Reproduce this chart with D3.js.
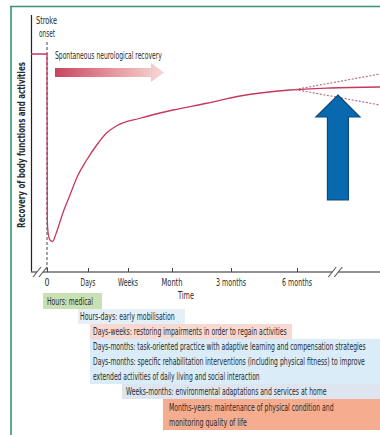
<!DOCTYPE html>
<html>
<head>
<meta charset="utf-8">
<script src="https://cdn.jsdelivr.net/npm/d3@7"></script>
<style>
  html, body { margin: 0; padding: 0; background: #ffffff; }
  svg { display: block; }
  text { font-family: "Liberation Sans Narrow", "DejaVu Sans Condensed", "Roboto", sans-serif; fill: #2b2b2b; }
</style>
</head>
<body>
<svg id="chart" width="380" height="435"></svg>
<script>
// ---------------- DATA ----------------
// Time axis (ordinal-like positions, non-linear time)
const timeTicks = [0, 1, 2, 3, 4, 5];
const timeLabels = ["0", "Days", "Weeks", "Month", "3 months", "6 months"];
const timeStart = -0.39;   // pre-stroke
const timeBreak = 5.58;    // axis break
const timeEnd = 6.26;

// Recovery curve (time position, recovery level 0-100)
const curveTime = [-0.39, 0, 0.007, 0.024, 0.073, 0.139, 0.183, 0.237, 0.398, 0.561, 0.724, 0.968,
                   1.218, 1.468, 1.718, 2.273, 3.017, 3.588, 4.136, 4.894, 5.5, 6.258];
const curveRecovery = [87.2, 87.2, 21.6, 16.0, 12.8, 12.2, 13.6, 16.1, 24.1, 30.8, 37.6, 44.8,
                       50.8, 55.7, 58.5, 61.5, 64.8, 67.5, 70.4, 72.8, 73.6, 74.0];

// Divergent long-term trajectories (dotted)
const branchTime = [4.97, 6.258];
const upperRecovery = [73.0, 79.2];
const lowerRecovery = [73.0, 66.8];

// Texts
const yAxisLabel = "Recovery of body functions and activities";
const xAxisLabel = "Time";
const onsetLabel = ["Stroke", "onset"];
const spontaneousLabel = "Spontaneous neurological recovery";

// Rehabilitation phases (text lines)
const phaseNames = ["medical", "mobilisation", "restoring", "rehab", "home", "maintenance"];
const phaseLines = [
  ["Hours: medical"],
  ["Hours-days: early mobilisation"],
  ["Days-weeks: restoring impairments in order to regain activities"],
  ["Days-months: task-oriented practice with adaptive learning and compensation strategies",
   "Days-months: specific rehabilitation interventions (including physical fitness) to improve",
   "extended activities of daily living and social interaction"],
  ["Weeks-months: environmental adaptations and services at home"],
  ["Months-years: maintenance of physical condition and",
   "monitoring quality of life"]
];

// ---------------- LAYOUT / STYLE ----------------
const tickPixels = [47, 88, 128, 172, 231, 297];
const tickLabelWidths = [5, 15, 20, 21, 30, 30];
const yTop = 22, yBottom = 272;
const lineColor = "#c8375c";
const phaseStyle = {
  medical:      { x0: 43,  x1: 102, y0: 293, y1: 309, fill: "#c9e0b5", tx: 47,  widths: [46] },
  mobilisation: { x0: 78,  x1: 185, y0: 309, y1: 324, fill: "#e4eff8", tx: 80,  widths: [95] },
  restoring:    { x0: 90,  x1: 292, y0: 324, y1: 339, fill: "#f8d9d2", tx: 93,  widths: [194] },
  rehab:        { x0: 90,  x1: 380, y0: 339, y1: 384, fill: "#d9ecf7", tx: 93,  widths: [273, 272, 167] },
  home:         { x0: 122, x1: 380, y0: 384, y1: 399, fill: "#dfe5ef", tx: 126, widths: [201] },
  maintenance:  { x0: 163, x1: 380, y0: 399, y1: 430, fill: "#f6ad8f", tx: 169, widths: [165, 78] }
};
const lineStep = 14.8;

// ---------------- DRAW ----------------
const svg = d3.select("#chart");

// place a text at (tx, ty) with anchor, horizontally scaled to a target width
function fitText(parent, str, tx, ty, width, size, anchor, extra) {
  const t = parent.append("text").attr("x", 0).attr("y", 0)
    .attr("font-size", size).attr("text-anchor", anchor || "start").text(str);
  if (extra) extra(t);
  const natural = t.node().getComputedTextLength();
  const sx = natural > 0 ? width / natural : 1;
  t.attr("transform", `translate(${tx},${ty}) scale(${sx},1)`);
  return t;
}

const x = d3.scaleLinear().domain(timeTicks).range(tickPixels);
const y = d3.scaleLinear().domain([0, 100]).range([yBottom, yTop]);

// frame (green)
svg.append("line").attr("x1", 10).attr("x2", 380).attr("y1", 6.5).attr("y2", 6.5)
  .attr("stroke", "#3a9474").attr("stroke-width", 1.6);
svg.append("line").attr("x1", 11).attr("x2", 11).attr("y1", 6).attr("y2", 435)
  .attr("stroke", "#3a9474").attr("stroke-width", 1.6);

// defs: gradient
const defs = svg.append("defs");
const grad = defs.append("linearGradient").attr("id", "spontGrad")
  .attr("x1", "0%").attr("x2", "100%").attr("y1", "0%").attr("y2", "0%");
grad.append("stop").attr("offset", "0%").attr("stop-color", "#c6465f");
grad.append("stop").attr("offset", "55%").attr("stop-color", "#e7999f");
grad.append("stop").attr("offset", "100%").attr("stop-color", "#f6d9d7");

// y axis line
svg.append("line").attr("x1", 31.5).attr("x2", 31.5).attr("y1", 15).attr("y2", yBottom)
  .attr("stroke", "#222").attr("stroke-width", 1.2);

// y axis label (rotated)
const yl = svg.append("g").attr("transform", `translate(24.5,${(62 + 228) / 2}) rotate(-90)`);
fitText(yl, yAxisLabel, 0, 0, 166, 10, "middle", t => t.attr("font-weight", "bold").attr("fill", "#333"));

// stroke onset dashed line
svg.append("line").attr("x1", x(0)).attr("x2", x(0)).attr("y1", 42).attr("y2", yBottom)
  .attr("stroke", "#333").attr("stroke-width", 0.9).attr("stroke-dasharray", "3,2");

// onset label
fitText(svg, onsetLabel[0], 36, 24, 21, 10.5, "start", t => t.attr("fill", "#333"));
fitText(svg, onsetLabel[1], 39, 37, 16, 10.5, "start", t => t.attr("fill", "#333"));

// x axis
const axisY = yBottom;
svg.append("line").attr("x1", 31).attr("x2", 380).attr("y1", axisY).attr("y2", axisY)
  .attr("stroke", "#6e6e6e").attr("stroke-width", 1.6);
const xAxis = d3.axisBottom(x).tickValues(timeTicks)
  .tickFormat(() => "").tickSizeInner(-4).tickSizeOuter(0);
const gx = svg.append("g").attr("transform", `translate(0,${axisY})`).call(xAxis);
gx.select(".domain").remove();
gx.selectAll(".tick line").attr("stroke", "#444").attr("stroke-width", 1);
timeTicks.forEach((t, i) => {
  fitText(svg, timeLabels[i], x(t), axisY + 13.5, tickLabelWidths[i], 10.5, "middle", s => s.attr("fill", "#333"));
});

// axis breaks
function drawBreak(cx) {
  svg.append("rect").attr("x", cx - 3).attr("y", axisY - 2).attr("width", 6).attr("height", 4).attr("fill", "#fff");
  [-3, 3].forEach(off => {
    svg.append("line")
      .attr("x1", cx + off - 4).attr("y1", axisY + 5)
      .attr("x2", cx + off + 4).attr("y2", axisY - 5)
      .attr("stroke", "#555").attr("stroke-width", 1.1);
  });
}
drawBreak(40);
drawBreak(x(timeBreak));

// x axis label
fitText(svg, xAxisLabel, 186, 299, 16, 10.5, "middle", t => t.attr("fill", "#333"));

// spontaneous recovery arrow
const ax0 = 55, ax1 = 151, axTip = 164, acy = 72.5;
svg.append("path")
  .attr("d", `M${ax0},${acy - 4.5} L${ax1},${acy - 4.5} L${ax1},${acy - 9.5} L${axTip},${acy} L${ax1},${acy + 9.5} L${ax1},${acy + 4.5} L${ax0},${acy + 4.5} Z`)
  .attr("fill", "url(#spontGrad)");
fitText(svg, spontaneousLabel, 55, 58.5, 107, 10.5, "start", t => t.attr("fill", "#333"));

// recovery curve
const curveData = curveTime.map((t, i) => ({ t, v: curveRecovery[i] }));
const line = d3.line().x(d => x(d.t)).y(d => y(d.v)).curve(d3.curveMonotoneX);
svg.append("path").datum(curveData).attr("d", line)
  .attr("fill", "none").attr("stroke", lineColor).attr("stroke-width", 1.3);

// dotted branches
[upperRecovery, lowerRecovery].forEach(vals => {
  const d = branchTime.map((t, i) => ({ t, v: vals[i] }));
  svg.append("path").datum(d).attr("d", d3.line().x(p => x(p.t)).y(p => y(p.v)))
    .attr("fill", "none").attr("stroke", "#b9607a").attr("stroke-width", 1.1)
    .attr("stroke-dasharray", "2,1.6");
});

// blue arrow pointing at long-term trajectory
const bTipX = x(5.62), bTipY = y(70.8);
const headW = 22, headH = 22, shaftW = 10.5, shaftBottom = 200;
svg.append("path")
  .attr("d", `M${bTipX},${bTipY} L${bTipX + headW},${bTipY + headH} L${bTipX + shaftW},${bTipY + headH} L${bTipX + shaftW},${shaftBottom} L${bTipX - shaftW},${shaftBottom} L${bTipX - shaftW},${bTipY + headH} L${bTipX - headW},${bTipY + headH} Z`)
  .attr("fill", "#0869ae").attr("stroke", "#0b4a80").attr("stroke-width", 1.2).attr("stroke-linejoin", "miter");

// rehabilitation phases
phaseNames.forEach((name) => {
  const s = phaseStyle[name];
  svg.append("rect").attr("x", s.x0).attr("y", s.y0).attr("width", s.x1 - s.x0).attr("height", s.y1 - s.y0)
    .attr("fill", s.fill);
});
phaseNames.forEach((name, i) => {
  const s = phaseStyle[name];
  const n = phaseLines[i].length;
  const mid = (s.y0 + s.y1) / 2;
  phaseLines[i].forEach((txt, j) => {
    const cy = mid + (j - (n - 1) / 2) * lineStep;
    fitText(svg, txt, s.tx, cy + 3.7, s.widths[j], 10.5, "start", t => t.attr("fill", "#262626"));
  });
});
</script>
</body>
</html>
